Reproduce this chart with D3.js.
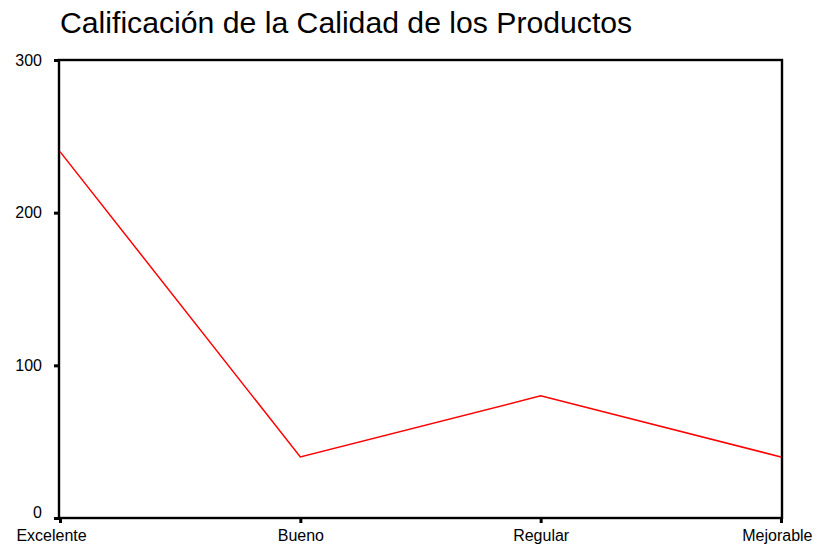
<!DOCTYPE html>
<html><head><meta charset="utf-8">
<script src="https://cdn.jsdelivr.net/npm/d3@7"></script>
<style>body{margin:0;background:#fff}svg{display:block}text{font-family:"Liberation Sans",Arial,sans-serif}</style>
</head><body>
<svg id="c" width="814" height="546"></svg>
<script>
const categories = ["Excelente","Bueno","Regular","Mejorable"];
const values = [240, 40, 80, 40];
const yTicks = [0, 100, 200, 300];
const title = "Calificación de la Calidad de los Productos";

const W = 814;
const svg = d3.select("#c");
const L = 59, R = 782, T = 60, B = 518;
const x = d3.scalePoint().domain(categories).range([L + 1, R - 1]).padding(0);
const y = d3.scaleLinear().domain([0, 300]).range([B, T]);

svg.append("text").attr("x", 60).attr("y", 33).attr("font-size", 30.2).attr("fill", "#000").text(title);

// frame
svg.append("rect").attr("x", L).attr("y", T).attr("width", R - L).attr("height", B - T)
  .attr("fill", "none").attr("stroke", "#000").attr("stroke-width", 2.4);

// y axis
const ya = svg.append("g").attr("transform", `translate(${L},0)`)
  .call(d3.axisLeft(y).tickValues(yTicks).tickSize(5).tickPadding(12).tickFormat(d3.format("d")));
ya.select(".domain").remove();
ya.selectAll(".tick line").attr("stroke", "#000").attr("stroke-width", 3);
ya.selectAll(".tick text").attr("font-size", 16).attr("fill", "#000").attr("font-family", "Liberation Sans, Arial, sans-serif")
  .attr("dy", d => d === 0 ? "-0.05em" : "0.32em");

// x axis
const xa = svg.append("g").attr("transform", `translate(0,${B})`)
  .call(d3.axisBottom(x).tickSize(5).tickPadding(7));
xa.select(".domain").remove();
xa.selectAll(".tick line").attr("stroke", "#000").attr("stroke-width", 3);
const last = categories[categories.length - 1];
xa.selectAll(".tick text").attr("font-size", 16).attr("fill", "#000").attr("font-family", "Liberation Sans, Arial, sans-serif")
  .attr("dy", "0.71em")
  .attr("dx", d => d === categories[0] ? -9 : 0)
  .attr("text-anchor", d => d === last ? "end" : "middle")
  .attr("x", d => d === last ? (W - 2 - x(d)) : 0);

const line = d3.line().x((d, i) => x(categories[i])).y(d => y(d));
svg.append("path").datum(values).attr("d", line).attr("fill", "none").attr("stroke", "#ff0000").attr("stroke-width", 1.5);
</script>
</body></html>
